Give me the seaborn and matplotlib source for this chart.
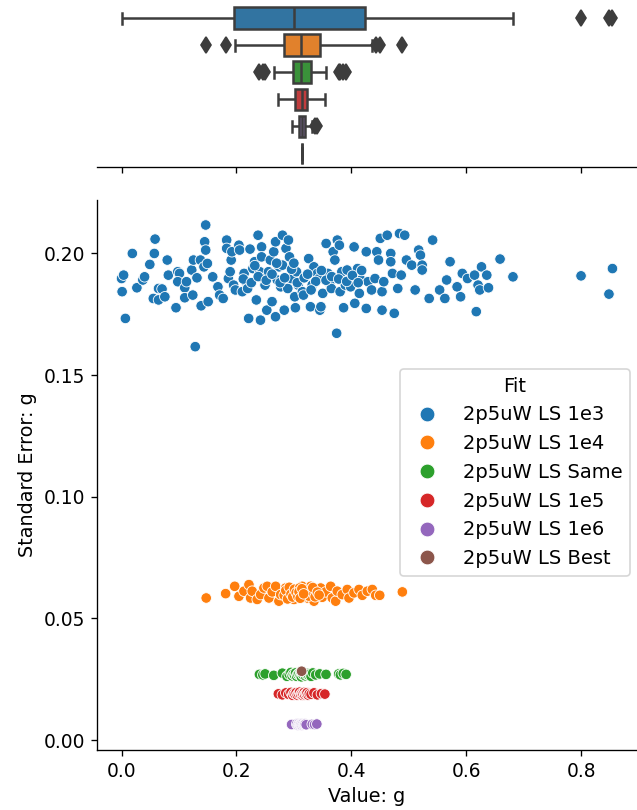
import numpy as np
import pandas as pd
import matplotlib
matplotlib.use("Agg")
import matplotlib.pyplot as plt
import seaborn as sns

fits = ["2p5uW LS 1e3", "2p5uW LS 1e4", "2p5uW LS Same",
        "2p5uW LS 1e5", "2p5uW LS 1e6", "2p5uW LS Best"]
colors = ["#1f77b4", "#ff7f0e", "#2ca02c", "#d62728", "#9467bd", "#8c564b"]

# ---- 2p5uW LS 1e3 ----
x_1e3 = [0.000, 0.0036, 0.001, 0.0067, 0.0188, 0.0267, 0.0371, 0.0401, 0.0492, 0.0584,
         0.0571, 0.0553, 0.0644, 0.0705, 0.0644, 0.0754, 0.0796, 0.0815, 0.0948, 0.0979,
         0.1009, 0.0979, 0.1100, 0.1100, 0.1131, 0.1222, 0.1252, 0.1240, 0.1283, 0.1313,
         0.1386, 0.1374, 0.1435, 0.1465, 0.1447, 0.1465, 0.1495, 0.1508, 0.1587, 0.1678,
         0.1708, 0.1769, 0.1830, 0.1830, 0.1860, 0.1891, 0.1909, 0.1921, 0.1951, 0.1982,
         0.2043, 0.2055, 0.2103, 0.2134, 0.2164, 0.2195, 0.2213, 0.2237, 0.2286, 0.2316,
         0.2347, 0.2377, 0.2407, 0.2419, 0.2438, 0.2438, 0.2468, 0.2498, 0.2529, 0.2559,
         0.2590, 0.2620, 0.2650, 0.2681, 0.2681, 0.2711, 0.2742, 0.2772, 0.2802, 0.2802,
         0.2833, 0.2863, 0.2894, 0.2906, 0.2924, 0.2954, 0.3015, 0.3027, 0.3046, 0.3076,
         0.3149, 0.3167, 0.3258, 0.3289, 0.3319, 0.3350, 0.3410, 0.3441, 0.3453, 0.3471,
         0.3502, 0.3562, 0.3593, 0.3623, 0.3653, 0.3684, 0.3714, 0.3745, 0.3757, 0.3793,
         0.3805, 0.3836, 0.3866, 0.3897, 0.3927, 0.3988, 0.4049, 0.4061, 0.4109, 0.4140,
         0.4170, 0.4261, 0.4261, 0.4292, 0.4353, 0.4413, 0.4444, 0.4474, 0.4505, 0.4535,
         0.4535, 0.4565, 0.4626, 0.4687, 0.4687, 0.4717, 0.4748, 0.4809, 0.4839, 0.4869,
         0.4930, 0.4960, 0.5052, 0.5112, 0.5173, 0.5204, 0.5234, 0.5234, 0.5356, 0.5416,
         0.5538, 0.5629, 0.5660, 0.5720, 0.5842, 0.5903, 0.5933, 0.6024, 0.6146, 0.6176,
         0.6207, 0.6237, 0.6267, 0.6359, 0.6389, 0.6590, 0.6815, 0.8000, 0.8486, 0.8547,
         0.212, 0.226, 0.238, 0.252, 0.262, 0.276, 0.284, 0.296, 0.306, 0.318,
         0.324, 0.338, 0.348, 0.356, 0.366, 0.378, 0.392, 0.402, 0.412, 0.418,
         0.232, 0.270, 0.300, 0.330]
y_1e3 = [0.1897, 0.1911, 0.1843, 0.1733, 0.2000, 0.1859, 0.1891, 0.1904, 0.1955, 0.2059,
         0.2000, 0.1815, 0.1856, 0.1854, 0.1809, 0.1822, 0.1973, 0.1911, 0.1777, 0.1925,
         0.1918, 0.1884, 0.1859, 0.1818, 0.1884, 0.1932, 0.1973, 0.1829, 0.1617, 0.1900,
         0.1785, 0.1973, 0.1945, 0.2117, 0.2048, 0.2014, 0.1959, 0.1802, 0.1904, 0.1863,
         0.1829, 0.1815, 0.2055, 0.2021, 0.1897, 0.1925, 0.1973, 0.2007, 0.1870, 0.1850,
         0.2034, 0.2014, 0.1843, 0.1918, 0.1884, 0.1856, 0.1733, 0.2018, 0.1938, 0.1966,
         0.1809, 0.2075, 0.1925, 0.1726, 0.2027, 0.1986, 0.1897, 0.1870, 0.1767, 0.1925,
         0.1973, 0.1802, 0.2007, 0.2048, 0.1740, 0.1891, 0.1945, 0.1863, 0.2075, 0.1952,
         0.1767, 0.2021, 0.1856, 0.2055, 0.1986, 0.1897, 0.1822, 0.1777, 0.1925, 0.1870,
         0.1843, 0.1829, 0.1979, 0.1781, 0.1870, 0.1945, 0.1918, 0.1897, 0.1767, 0.1781,
         0.1836, 0.2041, 0.1918, 0.1877, 0.1856, 0.2007, 0.1973, 0.1672, 0.2055, 0.2034,
         0.1843, 0.1925, 0.1777, 0.1870, 0.1932, 0.1863, 0.2027, 0.1795, 0.1938, 0.1836,
         0.1891, 0.2007, 0.1774, 0.1884, 0.1850, 0.1897, 0.2007, 0.1973, 0.2062, 0.1767,
         0.1843, 0.1884, 0.2075, 0.2000, 0.1966, 0.1918, 0.1754, 0.1856, 0.2082, 0.1911,
         0.2075, 0.1973, 0.1952, 0.1850, 0.2014, 0.1993, 0.1952, 0.1932, 0.1815, 0.2055,
         0.1850, 0.1815, 0.1891, 0.1966, 0.1863, 0.1822, 0.1918, 0.1897, 0.1911, 0.1761,
         0.1870, 0.1850, 0.1945, 0.1911, 0.1859, 0.1977, 0.1904, 0.1908, 0.1833, 0.1938,
         0.1895, 0.1880, 0.1905, 0.1890, 0.1915, 0.1880, 0.1900, 0.1935, 0.1880, 0.1900,
         0.1915, 0.1885, 0.1930, 0.1890, 0.1905, 0.1895, 0.1885, 0.1910, 0.1880, 0.1930,
         0.1950, 0.1960, 0.1960, 0.1850]

# ---- 2p5uW LS 1e4 ----
x_1e4 = [0.1474, 0.1812, 0.1970, 0.2044, 0.2131, 0.2218, 0.2247, 0.2275, 0.2362, 0.2422,
         0.2479, 0.2537, 0.2566, 0.2624, 0.2683, 0.2740, 0.2770, 0.2857, 0.2915, 0.2972,
         0.3002, 0.3059, 0.3146, 0.3176, 0.3233, 0.3293, 0.3350, 0.3380, 0.3467, 0.3495,
         0.3554, 0.3641, 0.3669, 0.3728, 0.3756, 0.3843, 0.3930, 0.3960, 0.4047, 0.4134,
         0.4192, 0.4279, 0.4366, 0.4425, 0.4495, 0.4889,
         0.283, 0.286, 0.289, 0.292, 0.295, 0.298, 0.301, 0.304, 0.307, 0.310,
         0.312, 0.315, 0.319, 0.322, 0.326, 0.330, 0.333, 0.337, 0.341, 0.344,
         0.309, 0.311, 0.314, 0.317]
y_1e4 = [0.0584, 0.0602, 0.0632, 0.0591, 0.0612, 0.0639, 0.0584, 0.0612, 0.0578, 0.0598,
         0.0625, 0.0632, 0.0584, 0.0609, 0.0632, 0.0571, 0.0598, 0.0625, 0.0591, 0.0612,
         0.0578, 0.0598, 0.0632, 0.0612, 0.0584, 0.0632, 0.0571, 0.0605, 0.0625, 0.0587,
         0.0609, 0.0632, 0.0584, 0.0571, 0.0612, 0.0598, 0.0619, 0.0584, 0.0605, 0.0619,
         0.0595, 0.0612, 0.0619, 0.0595, 0.0595, 0.0609,
         0.0595, 0.0615, 0.0580, 0.0628, 0.0600, 0.0588, 0.0620, 0.0606, 0.0590, 0.0625,
         0.0598, 0.0585, 0.0618, 0.0603, 0.0592, 0.0612, 0.0627, 0.0589, 0.0608, 0.0596,
         0.0610, 0.0583, 0.0622, 0.0601]

# ---- 2p5uW LS Same ----
x_same = [0.240, 0.246, 0.250, 0.265, 0.280, 0.288, 0.292, 0.295, 0.297, 0.299,
          0.301, 0.303, 0.305, 0.307, 0.309, 0.311, 0.312, 0.313, 0.315, 0.316,
          0.318, 0.320, 0.322, 0.324, 0.326, 0.328, 0.330, 0.333, 0.338, 0.345,
          0.356, 0.378, 0.381, 0.386, 0.391]
y_same = [0.0270, 0.0268, 0.0272, 0.0266, 0.0275, 0.0262, 0.0270, 0.0278, 0.0264, 0.0272,
          0.0268, 0.0276, 0.0262, 0.0270, 0.0274, 0.0266, 0.0279, 0.0260, 0.0272, 0.0268,
          0.0276, 0.0264, 0.0270, 0.0274, 0.0266, 0.0272, 0.0262, 0.0276, 0.0268, 0.0272,
          0.0270, 0.0272, 0.0268, 0.0274, 0.0270]

# ---- 2p5uW LS 1e5 ----
x_1e5 = [0.273, 0.280, 0.286, 0.291, 0.295, 0.298, 0.300, 0.302, 0.304, 0.306,
         0.308, 0.310, 0.312, 0.314, 0.315, 0.316, 0.318, 0.319, 0.321, 0.322,
         0.323, 0.325, 0.327, 0.330, 0.335, 0.341, 0.348, 0.354]
y_1e5 = [0.0190, 0.0186, 0.0194, 0.0188, 0.0196, 0.0184, 0.0192, 0.0189, 0.0195, 0.0185,
         0.0191, 0.0197, 0.0187, 0.0193, 0.0184, 0.0190, 0.0196, 0.0186, 0.0192, 0.0188,
         0.0195, 0.0185, 0.0191, 0.0188, 0.0194, 0.0186, 0.0191, 0.0189]

# ---- 2p5uW LS 1e6 ----
x_1e6 = [0.2960, 0.305, 0.307, 0.308, 0.309, 0.310, 0.311, 0.312, 0.313, 0.314,
         0.315, 0.316, 0.317, 0.318, 0.319, 0.320, 0.3215, 0.332, 0.336, 0.340]
y_1e6 = [0.0064, 0.0066, 0.0062, 0.0065, 0.0067, 0.0063, 0.0065, 0.0064, 0.0066, 0.0062,
         0.0065, 0.0067, 0.0063, 0.0065, 0.0064, 0.0066, 0.0063, 0.0065, 0.0064, 0.0066]

# ---- 2p5uW LS Best ----
x_best = [0.3135]
y_best = [0.0283]

frames = []
for fit, xs, ys in zip(fits,
                       [x_1e3, x_1e4, x_same, x_1e5, x_1e6, x_best],
                       [y_1e3, y_1e4, y_same, y_1e5, y_1e6, y_best]):
    frames.append(pd.DataFrame({"Value": xs, "Error": ys, "Fit": fit}))
df = pd.concat(frames, ignore_index=True)

plt.rcParams.update({
    "font.family": ["DejaVu Sans"],
    "xtick.labelsize": 11.2,
    "ytick.labelsize": 11.2,
    "axes.labelsize": 11.5,
})

DPI = 120
W, H = 637, 810
fig = plt.figure(figsize=(W / DPI, H / DPI), dpi=DPI)
L = 97 / W
ax = fig.add_axes([L, 1 - 750 / H, 1 - L, 550 / H])
ax_top = fig.add_axes([L, 1 - 167 / H, 1 - L, (167 - 4.6) / H], sharex=ax)

sns.scatterplot(data=df, x="Value", y="Error", hue="Fit", hue_order=fits,
                palette=colors, s=40, ax=ax)
ax.set_xlabel("Value: g")
ax.set_ylabel("Standard Error: g")
ax.spines["top"].set_visible(False)
ax.spines["right"].set_visible(False)
sns.move_legend(ax, "upper right", bbox_to_anchor=(0.987, 0.693),
                borderaxespad=0, title="Fit", fontsize=11.7, title_fontsize=11.7,
                markerscale=1.4)

sns.boxplot(data=df, x="Value", y="Fit", order=fits, hue="Fit", hue_order=fits,
            palette=colors, saturation=0.75, width=0.8, linewidth=1.5,
            linecolor="#3d3d3d", fliersize=7,
            flierprops=dict(marker="d", markerfacecolor="#3d3d3d",
                            markeredgecolor="#3d3d3d"),
            legend=False, ax=ax_top)
ax_top.set_xlabel("")
ax_top.set_ylabel("")
ax_top.tick_params(axis="x", labelbottom=False)
ax_top.tick_params(axis="y", left=False, labelleft=False)
for side in ["top", "right", "left"]:
    ax_top.spines[side].set_visible(False)

fig.savefig("out.png", dpi=DPI)
